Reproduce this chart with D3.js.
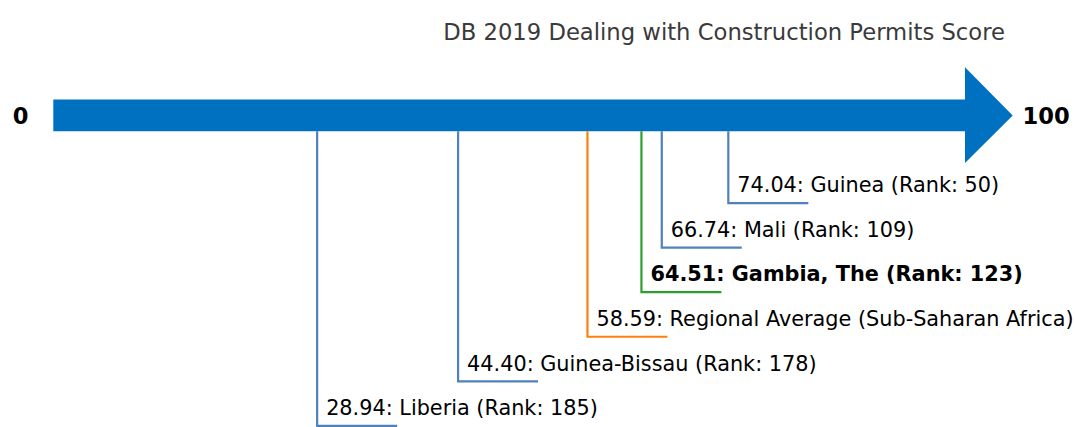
<!DOCTYPE html>
<html><head><meta charset="utf-8">
<script src="https://cdn.jsdelivr.net/npm/d3@7"></script>
<style>
html,body{margin:0;padding:0;background:#fff;}
svg text{font-family:"DejaVu Sans",sans-serif;}
</style></head>
<body>
<svg id="chart" width="1075" height="427"></svg>
<script>
const title = "DB 2019 Dealing with Construction Permits Score";
const names = ["Guinea", "Mali", "Gambia, The", "Regional Average (Sub-Saharan Africa)", "Guinea-Bissau", "Liberia"];
const scores = [74.04, 66.74, 64.51, 58.59, 44.40, 28.94];
const ranks = [50, 109, 123, null, 178, 185];
const kinds = ["peer", "peer", "focus", "region", "peer", "peer"];
const axisMin = 0, axisMax = 100;

const colors = {peer: "#4f81bd", focus: "#2ca02c", region: "#ff7f0e"};

const svg = d3.select("#chart");
const x = d3.scaleLinear().domain([axisMin, axisMax]).range([53.3, 965]);
const y = d3.scaleBand().domain(d3.range(names.length)).range([180.8, 448.1]);
const levelY = i => y(i) + y.bandwidth() / 2;

const barTop = 99.5, barBot = 131.3, headTop = 67.3, headBot = 163, tipX = 1012.7;
const midY = (barTop + barBot) / 2;

svg.append("text").attr("x", 1005).attr("y", 39.5).attr("text-anchor", "end")
  .attr("font-size", 22.7).attr("fill", "#3a3a3a").text(title);

// arrow
svg.append("path")
  .attr("d", `M${x(axisMin)},${barTop} L${x(axisMax)},${barTop} L${x(axisMax)},${headTop} L${tipX},${midY} L${x(axisMax)},${headBot} L${x(axisMax)},${barBot} L${x(axisMin)},${barBot} Z`)
  .attr("fill", "#0070c0");

svg.append("text").attr("x", 20.7).attr("y", midY).attr("dy", "0.36em").attr("text-anchor", "middle")
  .attr("font-weight", "bold").attr("font-size", 22.6).attr("fill", "#000").text(axisMin);
svg.append("text").attr("x", 1022.5).attr("y", midY).attr("dy", "0.36em").attr("text-anchor", "start")
  .attr("font-weight", "bold").attr("font-size", 22.6).attr("fill", "#000").text(axisMax);

const g = svg.selectAll("g.item").data(names.map((n, i) => ({n, s: scores[i], r: ranks[i], k: kinds[i], i})))
  .enter().append("g");

g.append("path")
  .attr("d", d => `M${x(d.s)},${barBot} L${x(d.s)},${levelY(d.i)} L${x(d.s) + 80},${levelY(d.i)}`)
  .attr("fill", "none").attr("stroke", d => colors[d.k]).attr("stroke-width", 2.2);

g.append("text")
  .attr("x", d => x(d.s) + 9)
  .attr("y", d => levelY(d.i) - 10.7)
  .attr("font-size", 20.8)
  .attr("font-weight", d => d.k === "focus" ? "bold" : "normal")
  .attr("fill", "#000")
  .text(d => d.s.toFixed(2) + ": " + d.n + (d.r != null ? " (Rank: " + d.r + ")" : ""));
</script>
</body></html>
